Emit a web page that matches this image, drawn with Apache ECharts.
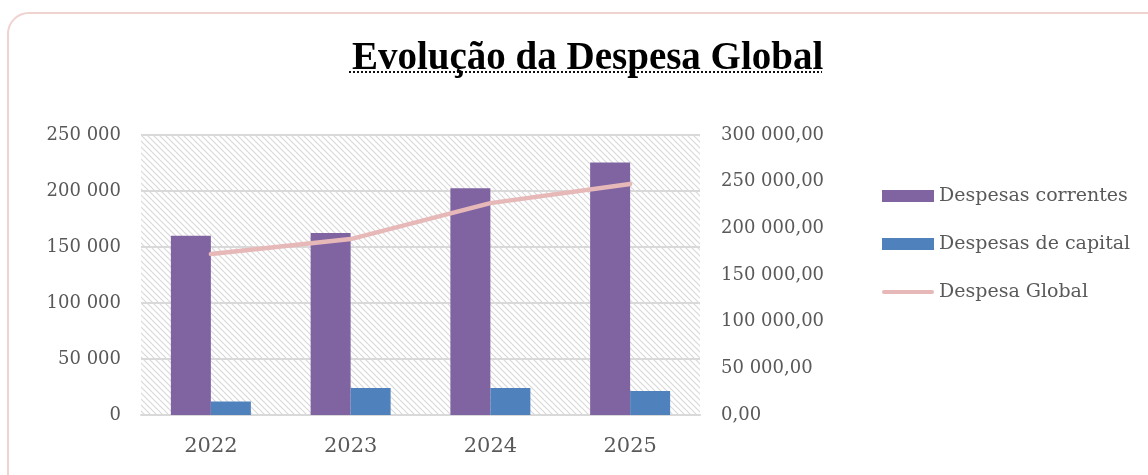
<!DOCTYPE html>
<html>
<head>
<meta charset="utf-8">
<script src="https://cdn.jsdelivr.net/npm/echarts@6/dist/echarts.min.js"></script>
<style>
    html, body { margin: 0; padding: 0; background: #fff; }
    #wrap { position: relative; width: 1148px; height: 475px; overflow: hidden; }
    #chart { position: absolute; left: 0; top: 0; width: 1148px; height: 475px; }
    #frame {
        position: absolute; left: 7px; top: 12px; width: 1170px; height: 500px;
        border: 2px solid #f0d2d0; border-radius: 22px; pointer-events: none;
    }
</style>
</head>
<body>
<div id="wrap">
    <div id="chart"></div>
    <div id="frame"></div>
</div>
<script>
    'use strict';

    var years = ['2022', '2023', '2024', '2025'];
    var despesasCorrentes = [160000, 162500, 202500, 225500];
    var despesasCapital = [12000, 24000, 24000, 21500];
    var despesaGlobal = [172500, 188500, 227000, 247500];

    var leftTicks = { min: 0, max: 250000, step: 50000 };
    var rightTicks = { min: 0, max: 300000, step: 50000 };

    // separador de milhares com espaço
    function milhares(v) {
        return String(Math.round(v)).replace(/\B(?=(\d{3})+(?!\d))/g, ' ');
    }

    // fundo tracejado da área do gráfico
    function hatch() {
        var c = document.createElement('canvas');
        var s = 6;
        c.width = s;
        c.height = s;
        var ctx = c.getContext('2d');
        ctx.fillStyle = '#ffffff';
        ctx.fillRect(0, 0, s, s);
        ctx.strokeStyle = '#d9d9d9';
        ctx.lineWidth = 1.2;
        ctx.beginPath();
        ctx.moveTo(-1, -1); ctx.lineTo(s + 1, s + 1);
        ctx.moveTo(-1, s - 1); ctx.lineTo(1, s + 1);
        ctx.moveTo(s - 1, -1); ctx.lineTo(s + 1, 1);
        ctx.stroke();
        return c;
    }

    // ícone de linha da legenda: faixa fina no meio de uma caixa 52x12
    var lineIcon = 'path://M0,0 M2,4 L50,4 A2,2 0 0 1 50,8 L2,8 A2,2 0 0 1 2,4 Z M52,12';

    var labelFont = 'DejaVu Serif';
    var chart = echarts.init(document.getElementById('chart'));

    chart.setOption({
        backgroundColor: '#ffffff',
        animation: false,
        title: {
            text: 'Evolução da Despesa Global',
            left: 347,
            top: 34,
            textStyle: {
                fontFamily: 'Liberation Serif',
                fontWeight: 'bold',
                fontSize: 39,
                color: '#000000'
            }
        },
        graphic: [{
            type: 'line',
            shape: { x1: 349, y1: 72, x2: 822, y2: 72 },
            style: { stroke: '#111', lineWidth: 2, lineDash: [2, 2] },
            silent: true
        }],
        legend: {
            orient: 'vertical',
            left: 877,
            top: 181,
            itemWidth: 52,
            itemHeight: 12,
            itemGap: 28,
            textStyle: {
                fontFamily: labelFont,
                fontSize: 19,
                color: '#595959',
                lineHeight: 20
            },
            data: [
                { name: 'Despesas correntes', icon: 'rect' },
                { name: 'Despesas de capital', icon: 'rect' },
                { name: 'Despesa Global', icon: lineIcon, itemStyle: { color: '#e6b9b8', borderWidth: 0 } }
            ]
        },
        grid: {
            left: 141,
            right: 448,
            top: 135,
            bottom: 60,
            show: true,
            borderWidth: 0,
            backgroundColor: { image: hatch(), repeat: 'repeat' }
        },
        xAxis: {
            type: 'category',
            data: years,
            axisTick: { show: false },
            axisLine: { lineStyle: { color: '#d9d9d9', width: 2 } },
            axisLabel: {
                fontFamily: labelFont,
                fontSize: 21,
                color: '#595959',
                margin: 21
            }
        },
        yAxis: [{
            type: 'value',
            min: leftTicks.min,
            max: leftTicks.max,
            interval: leftTicks.step,
            axisLine: { show: false },
            axisTick: { show: false },
            splitLine: { lineStyle: { color: '#d9d9d9', width: 2 } },
            axisLabel: {
                fontFamily: labelFont,
                fontSize: 18,
                color: '#595959',
                margin: 20,
                formatter: milhares
            }
        }, {
            type: 'value',
            min: rightTicks.min,
            max: rightTicks.max,
            interval: rightTicks.step,
            axisLine: { show: false },
            axisTick: { show: false },
            splitLine: { show: false },
            axisLabel: {
                fontFamily: labelFont,
                fontSize: 18,
                color: '#595959',
                margin: 21,
                formatter: function (v) {
                    return milhares(v) + ',00';
                }
            }
        }],
        series: [{
            name: 'Despesas correntes',
            type: 'bar',
            data: despesasCorrentes,
            barWidth: 40,
            barGap: '0%',
            itemStyle: { color: '#8064a2' }
        }, {
            name: 'Despesas de capital',
            type: 'bar',
            data: despesasCapital,
            barWidth: 40,
            barGap: '0%',
            itemStyle: { color: '#4f81bd' }
        }, {
            name: 'Despesa Global',
            type: 'line',
            yAxisIndex: 1,
            data: despesaGlobal,
            symbol: 'none',
            lineStyle: { color: '#e6b9b8', width: 4.5, cap: 'round' },
            itemStyle: { color: '#e6b9b8' },
            z: 5
        }]
    });
</script>
</body>
</html>
